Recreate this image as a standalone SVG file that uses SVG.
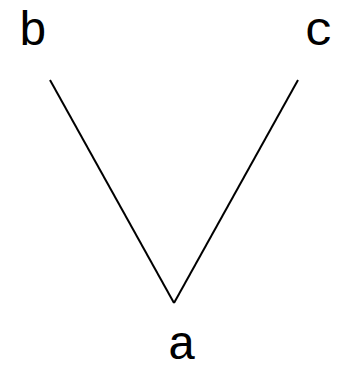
<svg xmlns="http://www.w3.org/2000/svg" width="338" height="374" viewBox="0 0 338 374">
<style>
.lbl{font-family:"Liberation Mono","Courier New",monospace;font-size:48px;fill:#000;text-anchor:middle}
.edge{stroke:#000;stroke-width:2;fill:none}
</style>
<rect width="338" height="374" fill="#fff"/>
<g id="connectors">
<line class="edge" x1="50" y1="80" x2="174" y2="303"/>
<line class="edge" x1="298" y1="80" x2="174" y2="303"/>
</g>
<g id="node-b"><text class="lbl" x="33" y="45">b</text></g>
<g id="node-c"><text class="lbl" x="319" y="45">c</text></g>
<g id="node-a"><text class="lbl" x="182" y="359">a</text></g>
</svg>
